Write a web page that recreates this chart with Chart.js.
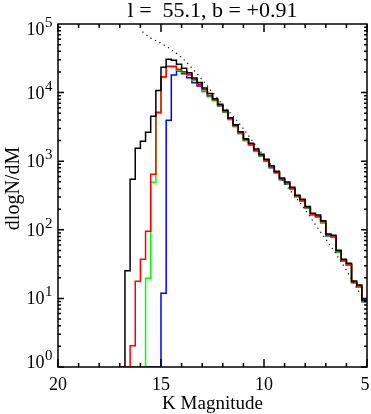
<!DOCTYPE html>
<html>
<head>
<meta charset="utf-8">
<title>dlogN/dM</title>
<script src="https://cdn.jsdelivr.net/npm/chart.js@4.4.0/dist/chart.umd.min.js"></script>
<style>
    html, body { margin: 0; padding: 0; background: #fff; }
    canvas { display: block; }
</style>
</head>
<body>
<canvas id="lfChart" width="371" height="414"></canvas>
<script>
// bin centres (K mag), bins are 0.25 mag wide
var magBins = [16.875, 16.625, 16.375, 16.125, 15.875, 15.625, 15.375, 15.125, 14.875, 14.625,
    14.375, 14.125, 13.875, 13.625, 13.375, 13.125, 12.875, 12.625, 12.375, 12.125,
    11.875, 11.625, 11.375, 11.125, 10.875, 10.625, 10.375, 10.125, 9.875, 9.625,
    9.375, 9.125, 8.875, 8.625, 8.375, 8.125, 7.875, 7.625, 7.375, 7.125,
    6.875, 6.625, 6.375, 6.125, 5.875, 5.625, 5.375, 5.125];
var binWidth = 0.25;

var totalCounts = [1, 25.3, 545, 1542, 1950, 2640, 4515, 10700, 23400, 30600,
    29600, 25850, 22600, 19500, 16330, 14030, 11670, 9700, 8150, 6750,
    5520, 4305, 3405, 2692, 2128, 1824, 1506, 1261, 1066, 859,
    712, 569, 497, 418, 319, 278, 219, 174, 164, 136,
    86.9, 83.2, 50.3, 37.2, 32.5, 17.9, 15.7, 9.5];
var redCounts = [null, 1, 2.04, 17.8, 37.2, 95, 644, 5160, 17060, 24170,
    24170, 21860, 20170, 18360, 15520, 13130, 11100, 9070, 7850, 6500,
    5300, 4150, 3280, 2590, 2050, 1760, 1450, 1215, 1025, 825,
    690, 550, 480, 400, 310, 268, 212, 168, 158, 131,
    84, 80, 48.5, 36, 31.3, 17.3, 15.1, 9.2];
var greenCounts = [null, null, 1, 1, 1, 19.6, 492, 4960, 16600, 23800,
    23600, 21300, 19700, 17900, 15200, 13600, 10550, 8900, 7700, 6380,
    5200, 4080, 3220, 2540, 2010, 1730, 1420, 1190, 1005, 810,
    677, 540, 470, 392, 304, 263, 208, 165, 155, 128,
    82, 78.5, 47.5, 35.3, 30.7, 17, 14.8, 9];
var blueCounts = [null, null, null, null, null, 1, 1, 1, 11.9, 3950,
    18060, 20600, 18800, 16500, 13900, 12500, 10400, 8800, 7650, 6350,
    5180, 4060, 3200, 2530, 2000, 1720, 1410, 1185, 1000, 805,
    673, 537, 467, 390, 302, 261, 206, 164, 154, 127,
    81.5, 78, 47.2, 35, 30.5, 16.9, 14.7, 8.9];

// dotted model curve
var modelMags = [15.9, 15.5, 15, 14.5, 14, 13.5, 13, 12.5, 12, 11.5, 11, 10.5,
    10, 9.5, 9, 8.5, 8, 7.5, 7, 6.5, 6, 5.5, 5];
var modelCounts = [77000, 62700, 52400, 42200, 32500, 22800, 15400, 10070, 6590, 4550, 2965, 1862,
    1190, 769, 475, 309, 196, 118, 73, 44.2, 25.7, 14.1, 8.5];

var xTicks = [20, 15, 10, 5];
var yDecades = [0, 1, 2, 3, 4, 5];

var titleText = 'l =  55.1, b = +0.91';
var xTitle = 'K Magnitude';
var yTitle = 'dlogN/dM';

var serif = "'Liberation Serif', 'DejaVu Serif', serif";

function stepPoints(values) {
    var pts = [];
    for (var i = 0; i < magBins.length; i++) {
        if (values[i] === null) continue;
        pts.push({x: magBins[i] + binWidth / 2, y: values[i]});
    }
    var last = magBins.length - 1;
    pts.push({x: magBins[last] - binWidth / 2, y: values[last]});
    return pts;
}

function modelPoints() {
    var pts = [];
    for (var i = 0; i < modelMags.length; i++) {
        pts.push({x: modelMags[i], y: modelCounts[i]});
    }
    return pts;
}

function histSet(label, values, color) {
    return {
        label: label,
        data: stepPoints(values),
        borderColor: color,
        borderWidth: 1.5,
        pointRadius: 0,
        stepped: 'before',
        fill: false
    };
}

//-------------
//- frame, inward ticks and all labels -
//-------------
var framePlugin = {
    id: 'frame',
    afterDatasetsDraw: function (chart) {
        var ctx = chart.ctx;
        var area = chart.chartArea;
        var xs = chart.scales.x;
        var ys = chart.scales.y;
        var i, k, px, py, len;

        ctx.save();
        ctx.strokeStyle = '#000';
        ctx.lineWidth = 1.5;
        ctx.strokeRect(area.left, area.top, area.right - area.left, area.bottom - area.top);

        ctx.beginPath();
        for (i = 5; i <= 20; i++) {
            px = xs.getPixelForValue(i);
            len = (i % 5 === 0) ? 8 : 4;
            ctx.moveTo(px, area.bottom);
            ctx.lineTo(px, area.bottom - len);
            ctx.moveTo(px, area.top);
            ctx.lineTo(px, area.top + len);
        }
        for (i = 0; i < 5; i++) {
            for (k = 1; k <= 9; k++) {
                py = ys.getPixelForValue(k * Math.pow(10, i));
                len = (k === 1) ? 6 : 3;
                ctx.moveTo(area.left, py);
                ctx.lineTo(area.left + len, py);
                ctx.moveTo(area.right, py);
                ctx.lineTo(area.right - len, py);
            }
        }
        ctx.stroke();

        ctx.fillStyle = '#000';
        ctx.textBaseline = 'alphabetic';

        // title
        ctx.font = '22px ' + serif;
        ctx.textAlign = 'center';
        ctx.fillText(titleText, (area.left + area.right) / 2, 17);

        // x tick labels
        ctx.font = '18px ' + serif;
        for (i = 0; i < xTicks.length; i++) {
            px = xs.getPixelForValue(xTicks[i]);
            if (xTicks[i] === 5) px -= 2;
            ctx.fillText(String(xTicks[i]), px, 390);
        }

        // x title
        ctx.font = '19px ' + serif;
        ctx.fillText(xTitle, (area.left + area.right) / 2, 409);

        // y tick labels 10^n
        for (i = 0; i < yDecades.length; i++) {
            py = ys.getPixelForValue(Math.pow(10, yDecades[i]));
            var base = py + 6;
            if (i === 0) base = py + 0.5;
            if (i === yDecades.length - 1) base = py + 11;
            ctx.font = '18px ' + serif;
            ctx.textAlign = 'right';
            ctx.fillText('10', 44.5, base);
            ctx.font = '15px ' + serif;
            ctx.textAlign = 'left';
            ctx.fillText(String(yDecades[i]), 45, base - 8);
        }

        // y title
        ctx.translate(18.5, (area.top + area.bottom) / 2 - 7);
        ctx.rotate(-Math.PI / 2);
        ctx.font = '20px ' + serif;
        ctx.textAlign = 'center';
        ctx.fillText(yTitle, 0, 0);
        ctx.restore();
    }
};

var lfChart = new Chart(document.getElementById('lfChart').getContext('2d'), {
    type: 'line',
    data: {
        datasets: [
            {
                label: 'model',
                data: modelPoints(),
                borderColor: '#000',
                borderWidth: 1.2,
                borderDash: [1.2, 3.8],
                pointRadius: 0,
                cubicInterpolationMode: 'monotone',
                fill: false
            },
            histSet('all', totalCounts, '#000000'),
            histSet('red', redCounts, '#ff0000'),
            histSet('green', greenCounts, '#00ff00'),
            histSet('blue', blueCounts, '#0000ff')
        ]
    },
    options: {
        responsive: false,
        devicePixelRatio: 1,
        animation: false,
        layout: {
            padding: {left: 58, top: 24, right: 4, bottom: 47}
        },
        plugins: {
            legend: {display: false},
            title: {display: false},
            tooltip: {enabled: false}
        },
        scales: {
            x: {type: 'linear', min: 5, max: 20, reverse: true, display: false},
            y: {type: 'logarithmic', min: 1, max: 100000, display: false}
        }
    },
    plugins: [framePlugin]
});
</script>
</body>
</html>
